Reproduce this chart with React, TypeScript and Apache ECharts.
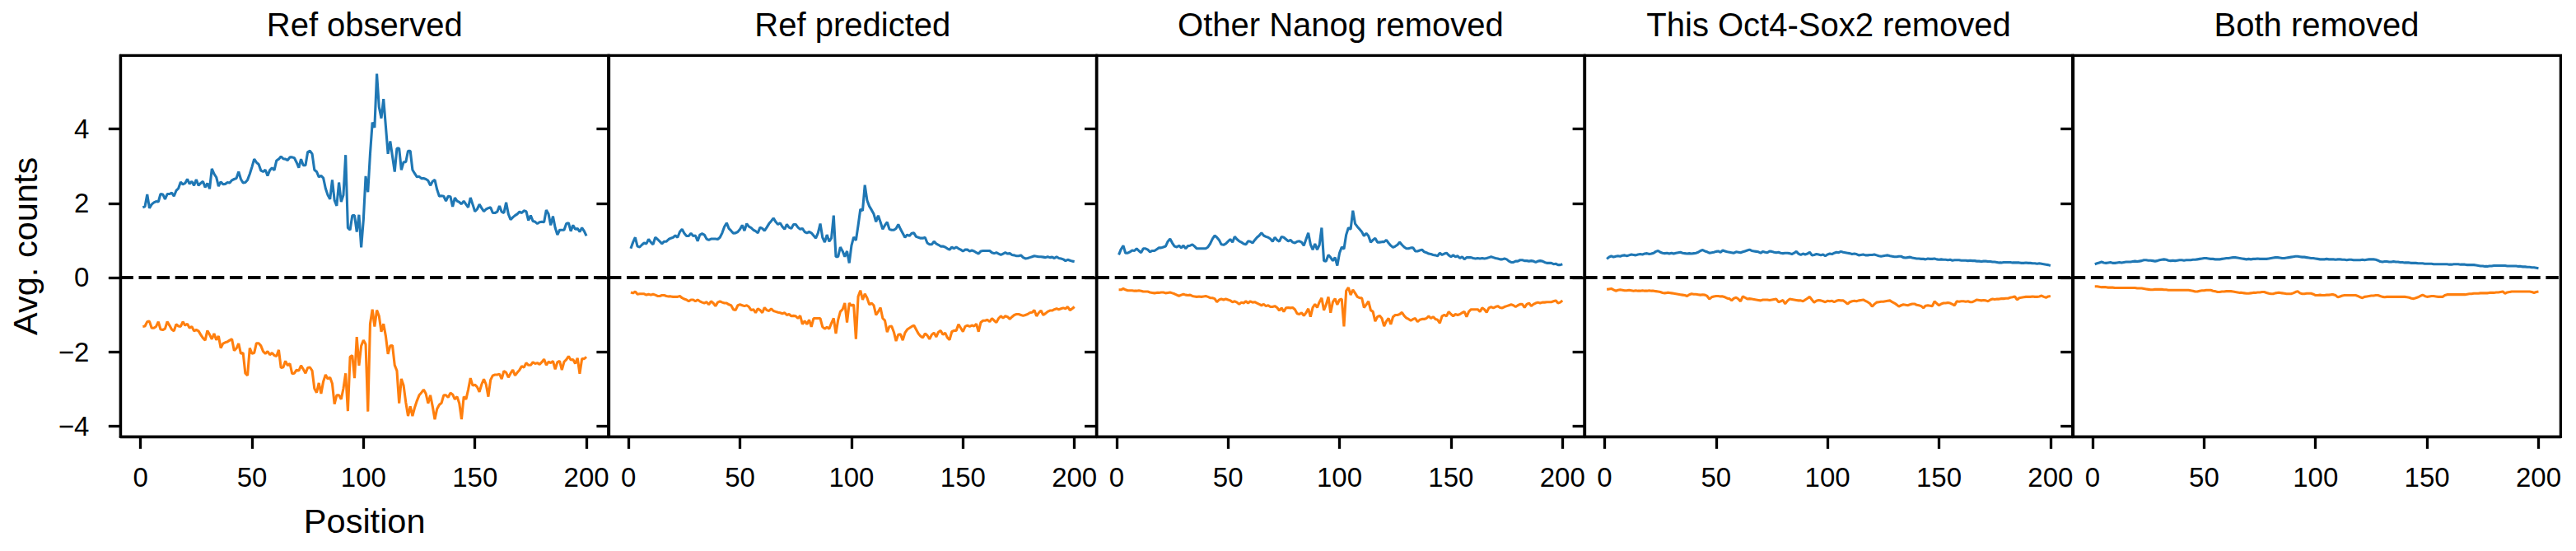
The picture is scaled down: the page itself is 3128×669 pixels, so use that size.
import React, { useEffect, useRef } from "react";
import * as echarts from "echarts";

// ---------------- DATA ----------------
const panelTitles = ["Ref observed", "Ref predicted", "Other Nanog removed", "This Oct4-Sox2 removed", "Both removed"];
const xTickValues = [0, 50, 100, 150, 200];
const yTickValues = [-4, -2, 0, 2, 4];
const xLabel = "Position";
const yLabel = "Avg. counts";
const positions = Array.from({ length: 200 }, (_, i) => i + 1);

const refObservedPos = [
  1.89, 1.91, 2.24, 1.87, 1.97, 2.02, 2.05, 2.04, 2.25, 2.24,
  2.11, 2.25, 2.25, 2.28, 2.19, 2.34, 2.40, 2.57, 2.51, 2.54,
  2.65, 2.52, 2.59, 2.48, 2.64, 2.48, 2.54, 2.59, 2.43, 2.54,
  2.39, 2.93, 2.79, 2.70, 2.46, 2.58, 2.51, 2.52, 2.56, 2.55,
  2.62, 2.65, 2.67, 2.85, 2.65, 2.55, 2.56, 2.63, 2.79, 2.98,
  3.19, 3.10, 3.05, 2.88, 2.85, 2.90, 2.74, 2.89, 2.95, 2.89,
  3.15, 3.19, 3.26, 3.20, 3.19, 3.16, 3.24, 3.24, 3.22, 3.10,
  2.96, 3.19, 3.02, 3.02, 3.38, 3.41, 3.33, 2.90, 2.85, 2.71,
  2.74, 2.68, 2.40, 2.22, 2.11, 2.63, 2.08, 1.93, 2.56, 2.04,
  2.22, 3.30, 1.34, 1.28, 1.67, 1.67, 1.23, 1.69, 0.81, 1.56,
  2.73, 2.30, 3.33, 4.18, 4.04, 5.49, 4.59, 4.29, 4.81, 4.07,
  3.33, 3.67, 3.26, 2.85, 3.48, 3.48, 2.90, 3.11, 3.11, 3.41,
  3.41, 2.90, 2.80, 2.71, 2.72, 2.67, 2.67, 2.65, 2.61, 2.48,
  2.59, 2.63, 2.37, 2.19, 2.20, 2.19, 2.06, 2.19, 2.18, 1.91,
  2.15, 2.06, 2.03, 1.98, 2.06, 1.97, 1.89, 2.15, 1.97, 1.78,
  1.84, 1.97, 1.87, 1.78, 1.84, 1.87, 1.89, 1.74, 1.74, 1.77,
  1.93, 1.77, 1.74, 2.02, 1.71, 1.56, 1.62, 1.67, 1.71, 1.77,
  1.74, 1.80, 1.78, 1.54, 1.67, 1.52, 1.50, 1.45, 1.49, 1.50,
  1.49, 1.82, 1.71, 1.41, 1.65, 1.34, 1.15, 1.28, 1.28, 1.28,
  1.45, 1.47, 1.25, 1.41, 1.30, 1.32, 1.23, 1.34, 1.25, 1.12,
];
const refObservedNeg = [
  -1.32, -1.31, -1.19, -1.18, -1.36, -1.36, -1.32, -1.19, -1.40, -1.41,
  -1.38, -1.19, -1.29, -1.40, -1.44, -1.26, -1.31, -1.32, -1.19, -1.29,
  -1.25, -1.36, -1.32, -1.44, -1.41, -1.44, -1.54, -1.63, -1.69, -1.43,
  -1.54, -1.66, -1.51, -1.68, -1.58, -1.90, -1.78, -1.75, -1.73, -1.69,
  -1.66, -1.97, -1.91, -1.78, -2.05, -2.03, -2.58, -2.64, -1.90, -2.05,
  -2.03, -1.77, -1.77, -1.84, -1.99, -2.05, -1.99, -2.08, -2.03, -2.10,
  -2.12, -1.95, -2.43, -2.42, -2.25, -2.37, -2.32, -2.59, -2.58, -2.49,
  -2.51, -2.37, -2.47, -2.58, -2.43, -2.42, -2.51, -2.99, -3.10, -2.84,
  -3.13, -2.80, -2.62, -2.73, -2.69, -2.86, -3.41, -3.17, -3.17, -3.28,
  -2.99, -2.58, -3.60, -2.14, -2.10, -2.71, -1.60, -2.37, -1.84, -1.69,
  -1.80, -3.61, -1.25, -0.86, -1.32, -0.88, -1.04, -1.46, -1.25, -1.58,
  -2.06, -1.84, -1.83, -2.36, -2.51, -3.39, -2.73, -2.91, -3.36, -3.73,
  -3.47, -3.73, -3.50, -3.32, -3.17, -3.10, -3.02, -3.13, -3.39, -3.17,
  -3.47, -3.82, -3.54, -3.43, -3.38, -3.17, -3.17, -3.23, -3.11, -3.15,
  -3.28, -3.21, -3.39, -3.82, -3.21, -3.28, -3.02, -2.71, -2.91, -2.89,
  -2.95, -3.08, -2.88, -2.74, -2.88, -3.21, -2.76, -2.64, -2.62, -2.62,
  -2.60, -2.73, -2.52, -2.56, -2.69, -2.58, -2.49, -2.64, -2.56, -2.49,
  -2.39, -2.42, -2.30, -2.36, -2.36, -2.28, -2.32, -2.30, -2.34, -2.28,
  -2.20, -2.36, -2.27, -2.30, -2.25, -2.47, -2.28, -2.25, -2.49, -2.27,
  -2.21, -2.12, -2.22, -2.21, -2.32, -2.17, -2.59, -2.19, -2.19, -2.14,
];
const refPredictedPos = [
  0.78, 0.95, 1.08, 0.84, 0.82, 0.88, 0.93, 0.91, 1.03, 0.95,
  0.89, 1.08, 1.03, 0.97, 0.91, 0.97, 0.97, 1.03, 1.06, 1.08,
  1.13, 1.08, 1.23, 1.30, 1.19, 1.12, 1.12, 1.19, 1.12, 1.13,
  0.98, 1.15, 1.18, 1.15, 1.04, 1.01, 1.04, 1.04, 1.04, 1.03,
  1.08, 1.20, 1.37, 1.47, 1.32, 1.26, 1.19, 1.20, 1.23, 1.30,
  1.41, 1.26, 1.45, 1.37, 1.34, 1.28, 1.25, 1.20, 1.35, 1.32,
  1.26, 1.35, 1.45, 1.52, 1.60, 1.50, 1.43, 1.47, 1.37, 1.30,
  1.43, 1.35, 1.32, 1.43, 1.43, 1.35, 1.30, 1.32, 1.23, 1.20,
  1.23, 1.20, 1.13, 1.06, 1.20, 1.45, 1.08, 0.95, 1.15, 0.97,
  1.06, 1.67, 0.56, 0.56, 0.82, 0.71, 0.56, 0.71, 0.39, 0.86,
  1.09, 1.00, 1.40, 1.84, 1.80, 2.49, 2.08, 1.92, 1.82, 1.71,
  1.50, 1.67, 1.49, 1.30, 1.41, 1.49, 1.30, 1.28, 1.28, 1.32,
  1.43, 1.30, 1.19, 1.08, 1.15, 1.12, 1.19, 1.20, 1.10, 1.08,
  1.06, 1.06, 1.08, 0.93, 0.89, 0.89, 0.97, 0.91, 0.88, 0.84,
  0.84, 0.82, 0.78, 0.75, 0.82, 0.78, 0.82, 0.78, 0.75, 0.71,
  0.75, 0.75, 0.71, 0.73, 0.71, 0.67, 0.64, 0.71, 0.72, 0.72,
  0.72, 0.72, 0.67, 0.65, 0.67, 0.64, 0.61, 0.64, 0.67, 0.64,
  0.65, 0.61, 0.60, 0.58, 0.58, 0.60, 0.54, 0.51, 0.52, 0.54,
  0.56, 0.58, 0.57, 0.56, 0.56, 0.55, 0.54, 0.56, 0.54, 0.55,
  0.52, 0.56, 0.52, 0.51, 0.49, 0.45, 0.48, 0.46, 0.44, 0.43,
];
const refPredictedNeg = [
  -0.40, -0.42, -0.38, -0.45, -0.44, -0.44, -0.44, -0.47, -0.45, -0.47,
  -0.45, -0.47, -0.50, -0.50, -0.48, -0.48, -0.50, -0.51, -0.51, -0.52,
  -0.52, -0.52, -0.50, -0.55, -0.58, -0.60, -0.64, -0.60, -0.60, -0.64,
  -0.60, -0.64, -0.67, -0.69, -0.66, -0.73, -0.64, -0.69, -0.77, -0.67,
  -0.64, -0.67, -0.69, -0.69, -0.73, -0.75, -0.86, -0.88, -0.75, -0.73,
  -0.75, -0.77, -0.75, -0.79, -0.88, -0.86, -0.95, -0.84, -0.88, -0.95,
  -0.81, -0.88, -0.90, -0.84, -0.90, -0.92, -0.94, -0.95, -0.97, -0.95,
  -1.01, -0.99, -1.04, -1.03, -1.04, -1.10, -1.03, -1.26, -1.17, -1.26,
  -1.14, -1.33, -1.10, -1.10, -1.10, -1.10, -1.33, -1.38, -1.34, -1.38,
  -1.23, -1.10, -1.51, -1.14, -0.92, -0.86, -0.69, -1.21, -0.69, -0.76,
  -0.73, -1.66, -0.51, -0.35, -0.60, -0.44, -0.55, -0.73, -0.69, -0.75,
  -1.01, -0.92, -0.81, -1.10, -1.16, -1.47, -1.32, -1.31, -1.47, -1.71,
  -1.54, -1.53, -1.69, -1.49, -1.40, -1.36, -1.32, -1.29, -1.40, -1.51,
  -1.58, -1.62, -1.51, -1.56, -1.66, -1.54, -1.49, -1.60, -1.47, -1.43,
  -1.54, -1.49, -1.62, -1.68, -1.46, -1.43, -1.43, -1.26, -1.36, -1.46,
  -1.32, -1.29, -1.32, -1.29, -1.31, -1.25, -1.46, -1.21, -1.16, -1.16,
  -1.14, -1.19, -1.10, -1.16, -1.21, -1.10, -1.04, -1.09, -1.04, -1.06,
  -1.12, -1.06, -1.01, -0.99, -0.99, -1.01, -1.03, -1.01, -0.99, -0.95,
  -0.94, -0.88, -1.04, -0.95, -0.89, -1.01, -0.97, -0.92, -0.89, -0.89,
  -0.86, -0.84, -0.86, -0.84, -0.82, -0.84, -0.79, -0.88, -0.84, -0.79,
];
const otherNanogPos = [
  0.61, 0.76, 0.86, 0.66, 0.66, 0.69, 0.73, 0.72, 0.78, 0.72,
  0.67, 0.78, 0.78, 0.75, 0.69, 0.72, 0.72, 0.76, 0.80, 0.80,
  0.82, 0.84, 0.97, 1.04, 0.93, 0.84, 0.82, 0.86, 0.80, 0.86,
  0.78, 0.85, 0.86, 0.89, 0.84, 0.78, 0.78, 0.78, 0.78, 0.78,
  0.82, 0.91, 1.04, 1.13, 1.08, 1.01, 0.89, 0.88, 0.91, 0.97,
  1.03, 0.95, 1.10, 1.03, 0.98, 0.95, 0.91, 0.89, 0.98, 0.97,
  0.93, 1.01, 1.08, 1.13, 1.20, 1.13, 1.10, 1.08, 1.04, 0.97,
  1.08, 1.01, 0.97, 1.10, 1.08, 1.03, 0.98, 1.01, 0.95, 0.93,
  0.97, 0.98, 0.95, 0.86, 1.03, 1.20, 0.89, 0.75, 0.91, 0.75,
  0.88, 1.34, 0.45, 0.44, 0.61, 0.54, 0.45, 0.54, 0.32, 0.66,
  0.82, 0.77, 1.15, 1.34, 1.30, 1.80, 1.45, 1.37, 1.30, 1.23,
  1.12, 1.19, 1.12, 0.95, 1.01, 1.06, 0.95, 0.95, 0.96, 0.96,
  1.01, 0.93, 0.86, 0.81, 0.84, 0.88, 0.95, 0.88, 0.82, 0.78,
  0.78, 0.80, 0.80, 0.71, 0.71, 0.73, 0.75, 0.69, 0.67, 0.64,
  0.63, 0.61, 0.60, 0.58, 0.66, 0.61, 0.64, 0.66, 0.60, 0.56,
  0.60, 0.56, 0.58, 0.52, 0.56, 0.49, 0.54, 0.54, 0.54, 0.52,
  0.51, 0.52, 0.51, 0.52, 0.51, 0.52, 0.54, 0.56, 0.54, 0.52,
  0.51, 0.49, 0.49, 0.51, 0.49, 0.44, 0.41, 0.41, 0.44, 0.44,
  0.47, 0.47, 0.45, 0.45, 0.44, 0.45, 0.44, 0.41, 0.44, 0.45,
  0.44, 0.41, 0.39, 0.39, 0.39, 0.36, 0.37, 0.34, 0.34, 0.36,
];
const otherNanogNeg = [
  -0.33, -0.33, -0.30, -0.33, -0.35, -0.35, -0.35, -0.36, -0.36, -0.35,
  -0.36, -0.38, -0.38, -0.38, -0.40, -0.41, -0.42, -0.41, -0.41, -0.40,
  -0.40, -0.42, -0.41, -0.40, -0.42, -0.44, -0.47, -0.50, -0.47, -0.45,
  -0.47, -0.48, -0.47, -0.50, -0.51, -0.52, -0.51, -0.52, -0.51, -0.50,
  -0.52, -0.55, -0.55, -0.57, -0.66, -0.60, -0.58, -0.60, -0.58, -0.60,
  -0.62, -0.66, -0.64, -0.67, -0.72, -0.67, -0.69, -0.64, -0.69, -0.64,
  -0.67, -0.66, -0.69, -0.72, -0.75, -0.72, -0.77, -0.75, -0.79, -0.79,
  -0.77, -0.81, -0.89, -0.82, -0.92, -0.82, -0.81, -0.82, -0.81, -0.86,
  -0.97, -0.99, -0.95, -1.03, -0.95, -0.84, -1.06, -0.81, -0.72, -0.81,
  -0.66, -0.55, -0.88, -0.73, -0.52, -0.95, -0.66, -0.57, -0.73, -0.60,
  -0.58, -1.32, -0.36, -0.27, -0.47, -0.33, -0.42, -0.52, -0.55, -0.55,
  -0.81, -0.73, -0.64, -0.88, -0.92, -1.18, -1.06, -1.03, -1.10, -1.31,
  -1.18, -1.10, -1.26, -1.06, -1.01, -1.01, -0.99, -0.94, -1.03, -1.09,
  -1.12, -1.16, -1.12, -1.10, -1.19, -1.14, -1.12, -1.12, -1.10, -1.04,
  -1.10, -1.06, -1.12, -1.14, -1.23, -1.04, -1.01, -1.04, -0.92, -0.99,
  -1.04, -0.99, -1.01, -0.99, -0.95, -0.92, -1.06, -0.92, -0.86, -0.86,
  -0.86, -0.86, -0.92, -0.82, -0.86, -0.94, -0.82, -0.79, -0.82, -0.79,
  -0.77, -0.81, -0.82, -0.79, -0.77, -0.75, -0.73, -0.75, -0.79, -0.75,
  -0.72, -0.72, -0.81, -0.72, -0.69, -0.77, -0.72, -0.69, -0.67, -0.69,
  -0.67, -0.67, -0.66, -0.66, -0.66, -0.64, -0.62, -0.69, -0.67, -0.62,
];
const oct4Sox2Pos = [
  0.50, 0.55, 0.58, 0.55, 0.57, 0.58, 0.57, 0.59, 0.60, 0.58,
  0.60, 0.62, 0.61, 0.60, 0.62, 0.63, 0.62, 0.64, 0.65, 0.63,
  0.64, 0.66, 0.70, 0.72, 0.68, 0.66, 0.65, 0.66, 0.64, 0.66,
  0.64, 0.66, 0.67, 0.68, 0.66, 0.65, 0.64, 0.65, 0.64, 0.65,
  0.66, 0.68, 0.72, 0.74, 0.71, 0.69, 0.66, 0.67, 0.68, 0.70,
  0.71, 0.68, 0.73, 0.71, 0.69, 0.68, 0.67, 0.66, 0.69, 0.68,
  0.67, 0.69, 0.71, 0.73, 0.75, 0.72, 0.71, 0.70, 0.69, 0.66,
  0.70, 0.68, 0.67, 0.71, 0.70, 0.68, 0.67, 0.68, 0.66, 0.65,
  0.66, 0.66, 0.65, 0.63, 0.66, 0.70, 0.64, 0.61, 0.64, 0.62,
  0.64, 0.68, 0.60, 0.61, 0.63, 0.62, 0.60, 0.62, 0.58, 0.62,
  0.64, 0.63, 0.66, 0.68, 0.67, 0.70, 0.68, 0.67, 0.66, 0.65,
  0.63, 0.64, 0.63, 0.60, 0.61, 0.62, 0.60, 0.60, 0.61, 0.61,
  0.62, 0.60, 0.58, 0.57, 0.58, 0.59, 0.60, 0.58, 0.57, 0.56,
  0.56, 0.57, 0.57, 0.54, 0.53, 0.54, 0.55, 0.53, 0.52, 0.51,
  0.51, 0.50, 0.50, 0.49, 0.51, 0.50, 0.50, 0.51, 0.49, 0.48,
  0.49, 0.48, 0.48, 0.47, 0.48, 0.46, 0.47, 0.47, 0.47, 0.46,
  0.46, 0.46, 0.45, 0.46, 0.45, 0.45, 0.44, 0.44, 0.43, 0.44,
  0.44, 0.43, 0.43, 0.42, 0.42, 0.41, 0.40, 0.40, 0.41, 0.41,
  0.41, 0.41, 0.40, 0.40, 0.40, 0.40, 0.39, 0.39, 0.40, 0.39,
  0.39, 0.38, 0.38, 0.37, 0.38, 0.37, 0.36, 0.35, 0.34, 0.32,
];
const oct4Sox2Neg = [
  -0.32, -0.31, -0.30, -0.33, -0.36, -0.34, -0.33, -0.34, -0.35, -0.35,
  -0.34, -0.35, -0.36, -0.35, -0.36, -0.36, -0.35, -0.36, -0.36, -0.35,
  -0.36, -0.36, -0.37, -0.38, -0.39, -0.41, -0.42, -0.41, -0.41, -0.42,
  -0.43, -0.44, -0.45, -0.46, -0.47, -0.48, -0.50, -0.46, -0.44, -0.45,
  -0.45, -0.46, -0.47, -0.46, -0.47, -0.50, -0.58, -0.53, -0.51, -0.50,
  -0.50, -0.51, -0.51, -0.53, -0.56, -0.57, -0.62, -0.56, -0.54, -0.58,
  -0.64, -0.51, -0.54, -0.58, -0.57, -0.58, -0.59, -0.60, -0.61, -0.62,
  -0.60, -0.60, -0.60, -0.61, -0.60, -0.59, -0.58, -0.66, -0.64, -0.61,
  -0.71, -0.63, -0.58, -0.59, -0.60, -0.61, -0.62, -0.62, -0.64, -0.60,
  -0.56, -0.52, -0.60, -0.67, -0.63, -0.61, -0.62, -0.64, -0.66, -0.63,
  -0.64, -0.63, -0.66, -0.63, -0.61, -0.62, -0.62, -0.66, -0.71, -0.66,
  -0.64, -0.63, -0.64, -0.62, -0.61, -0.60, -0.63, -0.66, -0.70, -0.78,
  -0.72, -0.67, -0.66, -0.65, -0.65, -0.64, -0.63, -0.62, -0.66, -0.69,
  -0.73, -0.78, -0.75, -0.73, -0.74, -0.75, -0.73, -0.71, -0.71, -0.74,
  -0.75, -0.77, -0.82, -0.76, -0.75, -0.76, -0.77, -0.64, -0.70, -0.75,
  -0.71, -0.69, -0.69, -0.68, -0.69, -0.72, -0.75, -0.64, -0.65, -0.64,
  -0.64, -0.65, -0.64, -0.66, -0.66, -0.63, -0.60, -0.61, -0.62, -0.61,
  -0.62, -0.64, -0.60, -0.58, -0.59, -0.58, -0.58, -0.57, -0.57, -0.56,
  -0.56, -0.54, -0.53, -0.51, -0.60, -0.55, -0.54, -0.53, -0.52, -0.52,
  -0.52, -0.51, -0.52, -0.52, -0.51, -0.49, -0.52, -0.54, -0.51, -0.50,
];
const bothRemovedPos = [
  0.36, 0.38, 0.40, 0.42, 0.40, 0.39, 0.40, 0.41, 0.39, 0.39,
  0.40, 0.41, 0.40, 0.41, 0.42, 0.42, 0.42, 0.43, 0.44, 0.43,
  0.44, 0.45, 0.47, 0.47, 0.46, 0.46, 0.45, 0.44, 0.45, 0.47,
  0.48, 0.49, 0.48, 0.46, 0.45, 0.46, 0.45, 0.46, 0.47, 0.47,
  0.46, 0.47, 0.47, 0.47, 0.48, 0.48, 0.49, 0.50, 0.51, 0.52,
  0.52, 0.51, 0.50, 0.50, 0.49, 0.49, 0.49, 0.50, 0.51, 0.52,
  0.52, 0.53, 0.54, 0.54, 0.53, 0.52, 0.51, 0.50, 0.49, 0.50,
  0.49, 0.50, 0.50, 0.51, 0.50, 0.50, 0.50, 0.50, 0.51, 0.52,
  0.53, 0.54, 0.54, 0.53, 0.52, 0.52, 0.53, 0.54, 0.55, 0.56,
  0.57, 0.57, 0.56, 0.55, 0.55, 0.54, 0.53, 0.52, 0.52, 0.51,
  0.50, 0.49, 0.49, 0.49, 0.50, 0.49, 0.49, 0.49, 0.48, 0.49,
  0.49, 0.48, 0.48, 0.47, 0.48, 0.48, 0.47, 0.47, 0.47, 0.47,
  0.48, 0.47, 0.48, 0.49, 0.49, 0.49, 0.48, 0.46, 0.43, 0.42,
  0.43, 0.43, 0.42, 0.42, 0.43, 0.42, 0.42, 0.41, 0.41, 0.40,
  0.40, 0.40, 0.39, 0.39, 0.39, 0.38, 0.38, 0.38, 0.37, 0.37,
  0.37, 0.37, 0.36, 0.36, 0.36, 0.36, 0.36, 0.36, 0.36, 0.35,
  0.35, 0.36, 0.36, 0.36, 0.35, 0.35, 0.35, 0.34, 0.34, 0.34,
  0.34, 0.33, 0.32, 0.31, 0.31, 0.30, 0.30, 0.31, 0.31, 0.32,
  0.32, 0.32, 0.32, 0.32, 0.32, 0.31, 0.31, 0.31, 0.31, 0.31,
  0.30, 0.30, 0.29, 0.29, 0.28, 0.28, 0.27, 0.27, 0.26, 0.25,
];
const bothRemovedNeg = [
  -0.24, -0.24, -0.25, -0.26, -0.26, -0.26, -0.27, -0.27, -0.27, -0.28,
  -0.28, -0.28, -0.28, -0.28, -0.28, -0.28, -0.28, -0.28, -0.28, -0.29,
  -0.29, -0.29, -0.30, -0.31, -0.32, -0.33, -0.33, -0.32, -0.32, -0.32,
  -0.32, -0.33, -0.33, -0.34, -0.34, -0.34, -0.34, -0.34, -0.34, -0.34,
  -0.34, -0.34, -0.34, -0.35, -0.36, -0.38, -0.38, -0.36, -0.35, -0.35,
  -0.34, -0.34, -0.34, -0.36, -0.37, -0.39, -0.39, -0.38, -0.38, -0.37,
  -0.37, -0.37, -0.38, -0.39, -0.40, -0.41, -0.41, -0.42, -0.43, -0.43,
  -0.42, -0.41, -0.41, -0.40, -0.40, -0.39, -0.39, -0.41, -0.43, -0.44,
  -0.44, -0.42, -0.41, -0.41, -0.42, -0.43, -0.44, -0.44, -0.44, -0.42,
  -0.39, -0.37, -0.42, -0.44, -0.44, -0.43, -0.43, -0.43, -0.45, -0.48,
  -0.48, -0.47, -0.48, -0.48, -0.47, -0.47, -0.46, -0.46, -0.48, -0.53,
  -0.51, -0.49, -0.48, -0.48, -0.48, -0.48, -0.48, -0.48, -0.50, -0.53,
  -0.55, -0.52, -0.51, -0.50, -0.49, -0.49, -0.48, -0.48, -0.50, -0.52,
  -0.53, -0.52, -0.52, -0.52, -0.52, -0.52, -0.52, -0.52, -0.52, -0.52,
  -0.53, -0.54, -0.56, -0.57, -0.55, -0.53, -0.50, -0.47, -0.50, -0.52,
  -0.51, -0.50, -0.50, -0.51, -0.52, -0.52, -0.52, -0.48, -0.46, -0.46,
  -0.46, -0.46, -0.46, -0.46, -0.46, -0.46, -0.46, -0.45, -0.44, -0.44,
  -0.43, -0.43, -0.43, -0.42, -0.42, -0.42, -0.42, -0.41, -0.41, -0.41,
  -0.40, -0.40, -0.39, -0.38, -0.43, -0.40, -0.39, -0.38, -0.38, -0.38,
  -0.38, -0.38, -0.38, -0.38, -0.38, -0.38, -0.39, -0.41, -0.39, -0.38,
];

const positiveSeries = [refObservedPos, refPredictedPos, otherNanogPos, oct4Sox2Pos, bothRemovedPos];
const negativeSeries = [refObservedNeg, refPredictedNeg, otherNanogNeg, oct4Sox2Neg, bothRemovedNeg];

// ---------------- STYLE / LAYOUT ----------------
const W = 3128;
const H = 669;
const FONT = "'Liberation Sans', Arial, Helvetica, sans-serif";
const BLUE = "#1f77b4";
const ORANGE = "#ff7f0e";
const PLOT_LEFT = 146.4;
const PANEL_W = 592.6;
const PLOT_TOP = 67.4;
const PLOT_H = 462.9;
const X_MIN = -8.95;
const X_MAX = 209.95;
const Y_MIN = -4.29;
const Y_MAX = 5.98;
const SPINE_W = 3.3;
const TICK_LEN = 14.6;
const LINE_W = 3.1;
const TICK_FONT = 33;
const TITLE_FONT = 40;
const LABEL_FONT = 41.5;

const fmtMinus = (v: number) => String(v).replace("-", "\u2212");

function buildOption() {
  const grids: any[] = [];
  const xAxes: any[] = [];
  const yAxes: any[] = [];
  const series: any[] = [];
  const graphics: any[] = [];

  for (let k = 0; k < 5; k++) {
    const left = PLOT_LEFT + k * PANEL_W;
    grids.push({
      left,
      top: PLOT_TOP,
      width: PANEL_W,
      height: PLOT_H,
      show: true,
      borderColor: "#000",
      borderWidth: SPINE_W,
      backgroundColor: "transparent",
      containLabel: false,
    });
    xAxes.push({
      type: "value",
      gridIndex: k,
      min: X_MIN,
      max: X_MAX,
      axisLine: { show: true, onZero: false, lineStyle: { color: "#000", width: SPINE_W } },
      axisTick: {
        show: true,
        length: TICK_LEN,
        customValues: xTickValues,
        lineStyle: { color: "#000", width: SPINE_W },
      },
      axisLabel: {
        show: true,
        customValues: xTickValues,
        fontSize: TICK_FONT,
        fontFamily: FONT,
        color: "#000",
        margin: 33,
      },
      splitLine: { show: false },
    });
    yAxes.push({
      type: "value",
      gridIndex: k,
      min: Y_MIN,
      max: Y_MAX,
      axisLine: { show: true, onZero: false, lineStyle: { color: "#000", width: SPINE_W } },
      axisTick: {
        show: true,
        length: TICK_LEN,
        customValues: yTickValues,
        lineStyle: { color: "#000", width: SPINE_W },
      },
      axisLabel: {
        show: k === 0,
        customValues: yTickValues,
        fontSize: TICK_FONT,
        fontFamily: FONT,
        color: "#000",
        margin: 38,
        formatter: fmtMinus,
      },
      splitLine: { show: false },
    });
    series.push({
      type: "line",
      xAxisIndex: k,
      yAxisIndex: k,
      data: positions.map((p, i) => [p, positiveSeries[k][i]]),
      showSymbol: false,
      symbol: "none",
      lineStyle: { color: BLUE, width: LINE_W },
      itemStyle: { color: BLUE },
      z: 3,
    });
    series.push({
      type: "line",
      xAxisIndex: k,
      yAxisIndex: k,
      data: positions.map((p, i) => [p, negativeSeries[k][i]]),
      showSymbol: false,
      symbol: "none",
      lineStyle: { color: ORANGE, width: LINE_W },
      itemStyle: { color: ORANGE },
      z: 3,
      markLine: {
        silent: true,
        symbol: ["none", "none"],
        label: { show: false },
        lineStyle: { color: "#000", width: 4.2, type: [15.4, 6.7] },
        emphasis: { disabled: true },
        data: [{ yAxis: 0 }],
        z: 4,
      },
    });
    graphics.push({
      type: "text",
      x: left + PANEL_W / 2,
      y: 29.5,
      style: {
        text: panelTitles[k],
        fontSize: TITLE_FONT,
        fontFamily: FONT,
        fill: "#000",
        align: "center",
        verticalAlign: "middle",
      },
    });
  }

  graphics.push({
    type: "text",
    x: PLOT_LEFT + PANEL_W / 2,
    y: 632,
    style: {
      text: xLabel,
      fontSize: LABEL_FONT,
      fontFamily: FONT,
      fill: "#000",
      align: "center",
      verticalAlign: "middle",
    },
  });
  graphics.push({
    type: "text",
    x: 30.5,
    y: PLOT_TOP + PLOT_H / 2,
    rotation: Math.PI / 2,
    style: {
      text: yLabel,
      fontSize: LABEL_FONT,
      fontFamily: FONT,
      fill: "#000",
      align: "center",
      verticalAlign: "middle",
    },
  });

  return {
    animation: false,
    backgroundColor: "#fff",
    textStyle: { fontFamily: FONT },
    grid: grids,
    xAxis: xAxes,
    yAxis: yAxes,
    series,
    graphic: graphics,
  };
}

export default function App() {
  const ref = useRef<HTMLDivElement>(null);
  useEffect(() => {
    if (!ref.current) return;
    const chart = echarts.init(ref.current, null, { renderer: "svg", width: W, height: H });
    chart.setOption(buildOption() as any);
    return () => chart.dispose();
  }, []);
  return (
    <div
      ref={ref}
      style={{ position: "fixed", left: 0, top: 0, width: W, height: H, background: "#fff" }}
    />
  );
}
